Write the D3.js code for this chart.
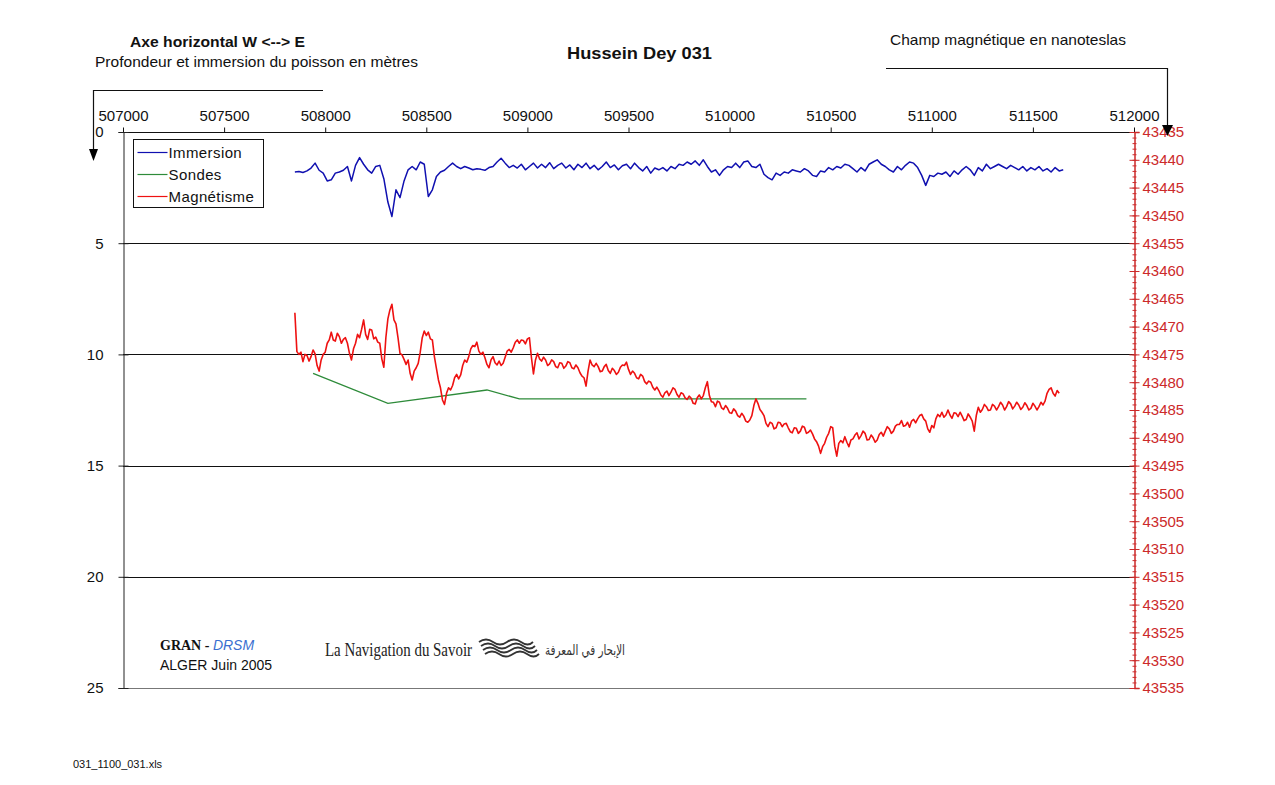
<!DOCTYPE html>
<html>
<head>
<meta charset="utf-8">
<script src="https://cdn.jsdelivr.net/npm/d3@7"></script>
<style>
  html, body { margin: 0; padding: 0; background: #fff; }
  svg { display: block; font-family: "Liberation Sans", Arial, sans-serif; }
</style>
</head>
<body>
<svg id="chart" width="1275" height="785"></svg>
<script>
// ---- Data ---------------------------------------------------------------
// Easting ticks (top axis), depth ticks (left) and field ticks (right)
const eastTicks = [507000, 507500, 508000, 508500, 509000, 509500, 510000, 510500, 511000, 511500, 512000];
const depthTicks = [0, 5, 10, 15, 20, 25];
const fieldTicks = [43435, 43440, 43445, 43450, 43455, 43460, 43465, 43470, 43475, 43480, 43485, 43490,
                    43495, 43500, 43505, 43510, 43515, 43520, 43525, 43530, 43535];

// Both towed-fish records start at this easting
const sampleStart = 507850;
// Immersion is logged every 20 m, the magnetometer every 10 m
const immersionStep = 20;
const fieldStep = 10;

// Towed fish immersion (m)
const immersion = [
  1.80,1.78,1.82,1.75,1.62,1.40,1.72,1.85,2.20,2.15,
  1.85,1.80,1.72,1.55,2.20,1.50,1.15,1.45,1.70,1.85,
  1.55,1.50,2.10,3.15,3.80,2.60,2.95,2.20,1.70,1.55,
  1.70,1.35,1.45,2.90,2.60,2.00,1.80,1.72,1.55,1.40,
  1.55,1.65,1.55,1.62,1.70,1.65,1.68,1.72,1.60,1.55,
  1.35,1.18,1.40,1.60,1.50,1.62,1.45,1.70,1.55,1.40,
  1.62,1.45,1.60,1.38,1.65,1.50,1.40,1.62,1.48,1.70,
  1.45,1.60,1.40,1.65,1.50,1.70,1.55,1.35,1.60,1.48,
  1.70,1.52,1.45,1.65,1.40,1.60,1.75,1.55,1.85,1.62,
  1.70,1.60,1.75,1.55,1.65,1.45,1.50,1.35,1.45,1.30,
  1.50,1.25,1.55,1.80,1.70,1.95,1.70,1.55,1.60,1.40,
  1.60,1.35,1.30,1.55,1.60,1.45,1.90,2.05,2.15,1.85,
  1.95,1.80,1.85,1.70,1.75,1.80,1.65,1.75,1.95,2.00,
  1.75,1.80,1.60,1.70,1.55,1.62,1.45,1.50,1.65,1.80,
  1.60,1.75,1.45,1.35,1.25,1.45,1.55,1.70,1.80,1.55,
  1.70,1.50,1.35,1.40,1.60,1.95,2.40,1.95,2.00,1.85,
  1.90,1.80,2.00,1.75,1.90,1.70,1.55,1.70,1.95,1.60,
  1.75,1.45,1.65,1.55,1.45,1.55,1.65,1.50,1.60,1.70,
  1.55,1.75,1.60,1.70,1.55,1.75,1.65,1.80,1.60,1.75,
  1.70
];

// Magnetic field (nT)
const magnetism = [
  43467.5,43474.5,43475.0,43474.6,43476.3,43475.0,43475.2,43476.2,43475.4,43474.2,43474.9,43477.0,43478.0,43476.0,43475.0,43474.6,43473.0,43472.4,43471.0,43472.4,
  43472.6,43471.2,43471.8,43473.0,43472.3,43472.0,43473.0,43474.8,43476.0,43474.0,43473.0,43471.4,43472.0,43470.5,43468.8,43471.4,43472.3,43470.5,43470.6,43472.2,
  43471.9,43472.8,43473.0,43475.8,43477.3,43472.0,43468.6,43467.0,43466.0,43468.8,43469.5,43472.0,43474.8,43475.1,43475.9,43476.8,43476.0,43478.4,43479.6,43478.0,
  43477.4,43476.6,43474.6,43472.0,43470.8,43471.6,43471.0,43472.2,43472.4,43475.4,43477.5,43479.6,43481.0,43483.2,43484.0,43482.0,43481.0,43481.4,43480.6,43479.2,
  43478.6,43479.4,43478.7,43477.0,43476.0,43476.4,43475.4,43474.0,43473.4,43473.6,43472.8,43474.4,43475.0,43474.6,43475.6,43476.8,43477.4,43476.0,43475.4,43476.5,
  43476.9,43476.2,43477.0,43476.6,43475.5,43474.4,43474.1,43474.6,43473.8,43472.8,43472.4,43473.0,43472.4,43472.5,43473.1,43472.2,43472.0,43475.6,43478.5,43476.0,
  43474.8,43475.8,43476.2,43475.5,43476.0,43477.0,43476.7,43476.0,43476.3,43477.2,43477.4,43476.5,43476.6,43477.5,43477.1,43476.3,43476.5,43477.4,43477.6,43476.9,
  43477.4,43478.3,43478.9,43479.2,43480.7,43478.0,43476.0,43476.9,43477.2,43476.6,43477.2,43478.1,43478.0,43477.2,43476.8,43477.9,43478.4,43477.5,43477.9,43478.6,
  43478.2,43477.3,43476.9,43477.0,43476.4,43477.7,43478.6,43478.0,43478.4,43479.2,43479.4,43478.6,43478.9,43479.9,43480.3,43479.8,43480.0,43480.9,43481.4,43480.9,
  43481.5,43482.3,43482.7,43481.9,43481.6,43482.4,43481.8,43481.0,43481.3,43482.2,43482.7,43481.9,43482.1,43482.8,43483.1,43482.5,43482.9,43483.8,43483.9,43482.8,
  43482.3,43483.0,43482.4,43481.0,43479.9,43482.4,43483.5,43483.6,43484.4,43483.4,43483.6,43484.6,43484.9,43484.2,43484.7,43485.5,43485.6,43484.8,43485.2,43486.0,
  43486.3,43485.6,43486.1,43487.0,43487.2,43486.8,43486.0,43484.2,43483.0,43483.8,43484.9,43485.4,43486.0,43487.4,43488.0,43487.2,43487.4,43488.4,43488.2,43487.2,
  43487.3,43488.0,43487.5,43487.4,43488.2,43488.9,43489.1,43488.2,43488.3,43489.2,43488.8,43487.9,43488.1,43489.2,43489.0,43488.6,43489.3,43490.2,43490.7,43491.5,
  43492.8,43491.6,43491.0,43489.9,43489.2,43488.0,43488.2,43491.5,43493.3,43491.0,43490.5,43490.9,43489.8,43490.8,43491.6,43490.4,43490.2,43489.5,43489.1,43490.2,
  43489.6,43488.8,43489.2,43490.4,43490.3,43489.5,43490.0,43490.8,43490.4,43489.4,43489.0,43489.7,43488.8,43488.0,43488.4,43489.2,43488.8,43487.9,43487.6,43487.6,
  43486.9,43487.9,43487.8,43487.2,43488.1,43487.0,43486.7,43487.3,43486.6,43486.0,43485.8,43486.6,43487.0,43488.4,43489.0,43487.8,43488.2,43486.6,43485.8,43486.2,
  43485.4,43486.3,43485.9,43485.0,43485.9,43486.5,43485.5,43485.6,43486.2,43485.4,43486.1,43486.9,43486.7,43485.7,43486.3,43487.0,43488.8,43486.0,43484.5,43485.4,
  43484.9,43484.0,43484.4,43485.1,43485.0,43484.0,43484.3,43485.0,43484.4,43483.6,43484.1,43485.0,43484.4,43483.5,43483.9,43484.8,43484.3,43483.6,43484.1,43484.9,
  43484.5,43483.7,43484.2,43485.0,43484.7,43483.8,43484.3,43485.0,43484.4,43483.6,43484.1,43483.4,43482.0,43481.3,43481.0,43482.0,43482.5,43481.5,43482.0
];

// Echo-sounder depths (m)
const sondeEasting = [507940, 508310, 508800, 508960, 510380];
const sondeDepth = [10.85, 12.2, 11.6, 12.0, 12.0];

const seriesNames = ["Immersion", "Sondes", "Magnétisme"];
const seriesColors = ["#1010b0", "#2e8b3a", "#ee1111"];

// ---- Layout -------------------------------------------------------------
const svg = d3.select("#chart");
const plot = { left: 123, right: 1134, top: 132, bottom: 688 };

const x = d3.scaleLinear().domain([507000, 512000]).range([plot.left, plot.right]);
const yDepth = d3.scaleLinear().domain([0, 25]).range([plot.top, plot.bottom]);
const yField = d3.scaleLinear().domain([43435, 43535]).range([plot.top, plot.bottom]);

const labelFont = "15px";

// Horizontal reference lines at each depth tick
svg.append("g")
  .selectAll("line")
  .data(depthTicks)
  .join("line")
  .attr("x1", plot.left).attr("x2", plot.right)
  .attr("y1", d => Math.round(yDepth(d)) + 0.5)
  .attr("y2", d => Math.round(yDepth(d)) + 0.5)
  .attr("stroke", d => d === 25 ? "#777" : "#111")
  .attr("stroke-width", 1);

// Top easting axis
const gTop = svg.append("g")
  .attr("transform", `translate(0,${plot.top + 0.5})`)
  .call(d3.axisTop(x).tickValues(eastTicks).tickFormat(d3.format("d")).tickSize(5).tickPadding(7));
gTop.select(".domain").remove();
gTop.selectAll("line").attr("stroke", "#111");
gTop.selectAll("text").attr("font-size", labelFont).attr("fill", "#111").attr("font-family", "Liberation Sans, Arial");

// Left depth axis
const gLeft = svg.append("g")
  .attr("transform", `translate(${plot.left + 0.5},0)`)
  .call(d3.axisLeft(yDepth).tickValues(depthTicks).tickSize(5).tickPadding(15));
gLeft.select(".domain").attr("stroke", "#222");
gLeft.selectAll(".tick line").attr("x1", 5).attr("stroke", "#222");
gLeft.selectAll("text").attr("font-size", labelFont).attr("fill", "#111").attr("font-family", "Liberation Sans, Arial");

// Right magnetic-field axis, with a minor tick every nanotesla
const axisRed = "#cc2a2a";
const minorField = d3.range(43435, 43536, 1);
const gMinor = svg.append("g")
  .attr("transform", `translate(${plot.right + 0.5},0)`)
  .call(d3.axisRight(yField).tickValues(minorField).tickSize(2).tickFormat(""));
gMinor.select(".domain").remove();
gMinor.selectAll(".tick line").attr("x1", -2).attr("stroke", axisRed);

const gRight = svg.append("g")
  .attr("transform", `translate(${plot.right + 0.5},0)`)
  .call(d3.axisRight(yField).tickValues(fieldTicks).tickFormat(d3.format("d")).tickSize(5).tickPadding(3));
gRight.select(".domain").attr("stroke", axisRed).attr("stroke-width", 1.5);
gRight.selectAll(".tick line").attr("x1", -5).attr("stroke", axisRed);
gRight.selectAll("text").attr("font-size", labelFont).attr("fill", axisRed).attr("font-family", "Liberation Sans, Arial");

// ---- Series ----------------------------------------------------------------
const immersionLine = d3.line()
  .x((d, i) => x(sampleStart + i * immersionStep)).y(d => yDepth(d));
const fieldLine = d3.line()
  .x((d, i) => x(sampleStart + i * fieldStep)).y(d => yField(d));
const sondeLine = d3.line().x(d => x(d[0])).y(d => yDepth(d[1]));

svg.append("path")
  .datum(sondeEasting.map((e, i) => [e, sondeDepth[i]]))
  .attr("d", sondeLine)
  .attr("fill", "none").attr("stroke", seriesColors[1]).attr("stroke-width", 1.3);

svg.append("path")
  .datum(magnetism)
  .attr("d", fieldLine)
  .attr("fill", "none").attr("stroke", seriesColors[2]).attr("stroke-width", 1.6)
  .attr("stroke-linejoin", "round");

svg.append("path")
  .datum(immersion)
  .attr("d", immersionLine)
  .attr("fill", "none").attr("stroke", seriesColors[0]).attr("stroke-width", 1.5)
  .attr("stroke-linejoin", "round");

// ---- Legend ----------------------------------------------------------------
const legend = svg.append("g").attr("transform", "translate(133.5,139.5)");
legend.append("rect").attr("width", 130).attr("height", 68)
  .attr("fill", "#fff").attr("stroke", "#111").attr("stroke-width", 1);
const items = legend.selectAll("g.item").data(seriesNames).join("g")
  .attr("class", "item")
  .attr("transform", (d, i) => `translate(0,${13 + i * 22})`);
items.append("line").attr("x1", 4).attr("x2", 34).attr("y1", 0).attr("y2", 0)
  .attr("stroke", (d, i) => seriesColors[i]).attr("stroke-width", 1.2);
items.append("text").attr("x", 35).attr("y", 5)
  .attr("font-size", "15px").attr("fill", "#111").attr("letter-spacing", "0.4px").text(d => d);

// ---- Headings and annotation arrows -----------------------------------------
svg.append("text").attr("x", 130).attr("y", 47)
  .attr("font-size", "14px").attr("font-weight", "bold").attr("fill", "#111")
  .attr("textLength", 175).attr("lengthAdjust", "spacingAndGlyphs")
  .text("Axe horizontal W <--> E");
svg.append("text").attr("x", 95).attr("y", 67)
  .attr("font-size", "14.5px").attr("fill", "#111")
  .attr("textLength", 323).attr("lengthAdjust", "spacingAndGlyphs")
  .text("Profondeur et immersion du poisson en mètres");
svg.append("text").attr("x", 567).attr("y", 59)
  .attr("font-size", "17px").attr("font-weight", "bold").attr("fill", "#111")
  .attr("textLength", 145).attr("lengthAdjust", "spacingAndGlyphs")
  .text("Hussein Dey 031");
svg.append("text").attr("x", 890).attr("y", 45)
  .attr("font-size", "15px").attr("fill", "#111")
  .attr("textLength", 236).attr("lengthAdjust", "spacingAndGlyphs")
  .text("Champ magnétique en nanoteslas");

// Depth arrow (left) and field arrow (right)
svg.append("path").attr("d", "M323,90.5 H93.5 V152")
  .attr("fill", "none").attr("stroke", "#111").attr("stroke-width", 1.2);
svg.append("path").attr("d", "M89,149 L98,149 L93.5,161 Z").attr("fill", "#000");
svg.append("path").attr("d", "M886,68.5 H1167.5 V128")
  .attr("fill", "none").attr("stroke", "#111").attr("stroke-width", 1.2);
svg.append("path").attr("d", "M1162,125 L1173,125 L1167.5,136 Z").attr("fill", "#000");

// ---- Credits -----------------------------------------------------------------
const credit = svg.append("text").attr("x", 160).attr("y", 650).attr("font-size", "14px");
credit.append("tspan").attr("font-family", "Liberation Serif, Times New Roman, serif")
  .attr("font-weight", "bold").attr("fill", "#111").text("GRAN - ");
credit.append("tspan").attr("font-style", "italic").attr("fill", "#3a6fd0").text("DRSM");
svg.append("text").attr("x", 160).attr("y", 670).attr("font-size", "14px").attr("fill", "#111")
  .text("ALGER Juin 2005");

svg.append("text").attr("x", 325).attr("y", 656)
  .attr("font-family", "Liberation Serif, Times New Roman, serif")
  .attr("font-size", "19px").attr("fill", "#222")
  .attr("textLength", 147).attr("lengthAdjust", "spacingAndGlyphs")
  .text("La Navigation du Savoir");

// Wave emblem
const waves = svg.append("g").attr("transform", "translate(479,642)")
  .attr("fill", "none").attr("stroke", "#333").attr("stroke-width", 1.8);
[0, 4, 8, 12].forEach((dy, k) => {
  waves.append("path")
    .attr("d", `M${k * 2},${dy} q7,-5 14,0 t14,0 t14,0 t12,0`);
});

svg.append("text").attr("x", 625).attr("y", 655).attr("text-anchor", "end")
  .attr("font-family", "DejaVu Sans, Noto Sans, sans-serif")
  .attr("font-size", "14px").attr("fill", "#333")
  .attr("textLength", 80).attr("lengthAdjust", "spacingAndGlyphs")
  .text("الإبحار في المعرفة");

svg.append("text").attr("x", 73).attr("y", 768)
  .attr("font-size", "11px").attr("fill", "#111")
  .text("031_1100_031.xls");
</script>
</body>
</html>
